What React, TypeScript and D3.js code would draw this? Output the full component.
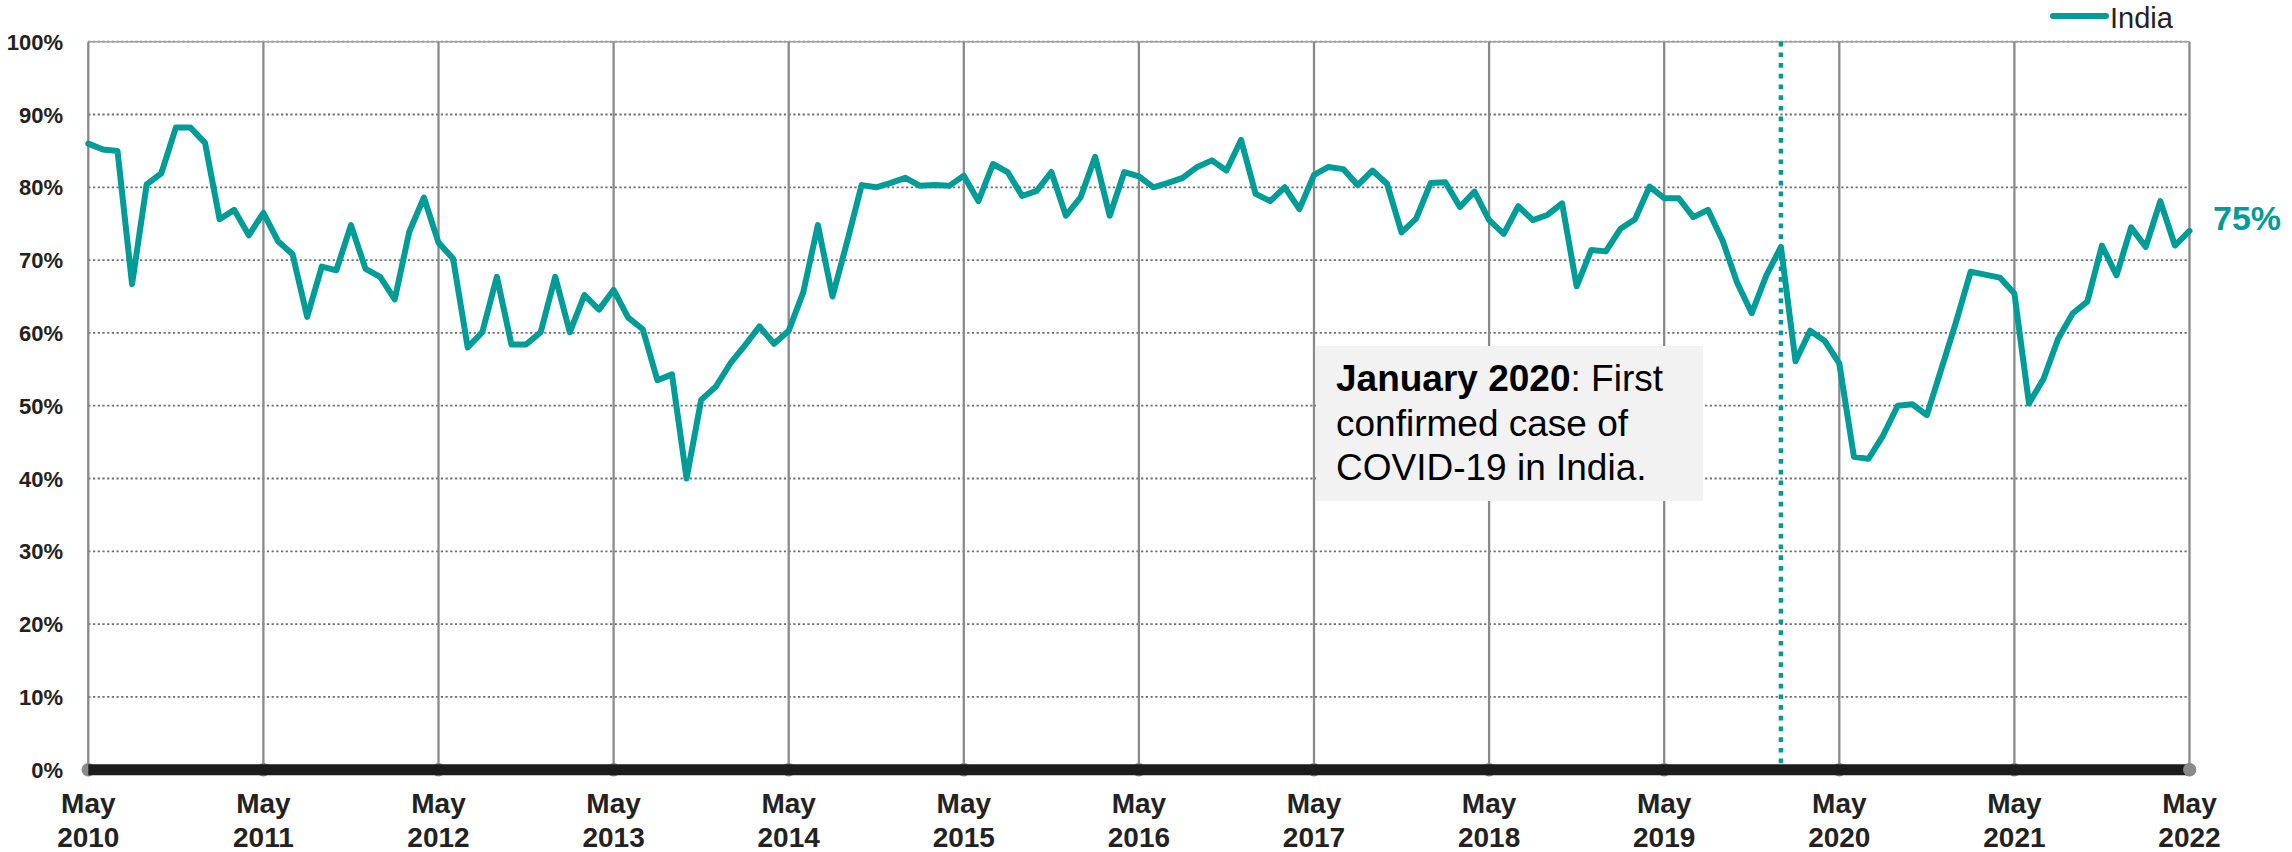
import React, { useEffect } from 'react';
import * as d3 from 'd3';

// ---------- data ----------
const firstMonth = new Date(2010, 4, 1); // May 2010
const lastMonth = new Date(2022, 4, 1); // May 2022
const months: Date[] = d3.timeMonth.range(firstMonth, d3.timeMonth.offset(lastMonth, 1));

const seriesName = 'India';
const indiaValues: number[] = [
  // 2010 May-Dec
  86.0, 85.2, 85.0, 66.7, 80.4, 81.9, 88.2, 88.2,
  // 2011
  86.1, 75.6, 76.9, 73.4, 76.5, 72.6, 70.8, 62.2, 69.1, 68.6, 74.8, 68.8,
  // 2012
  67.7, 64.6, 73.9, 78.6, 72.4, 70.2, 58.0, 60.1, 67.7, 58.4, 58.4, 60.1,
  // 2013
  67.7, 60.1, 65.2, 63.2, 65.9, 62.1, 60.5, 53.5, 54.3, 40.0, 50.8, 52.6,
  // 2014
  55.8, 58.3, 60.9, 58.5, 60.3, 65.6, 74.8, 65.0, 72.5, 80.3, 80.0, 80.6,
  // 2015
  81.3, 80.2, 80.3, 80.2, 81.6, 78.1, 83.2, 82.1, 78.8, 79.5, 82.1, 76.1,
  // 2016
  78.6, 84.2, 76.1, 82.1, 81.5, 80.0, 80.6, 81.3, 82.8, 83.7, 82.3, 86.5,
  // 2017
  79.1, 78.1, 80.0, 77.0, 81.7, 82.8, 82.5, 80.3, 82.3, 80.5, 73.8, 75.7,
  // 2018
  80.6, 80.7, 77.3, 79.4, 75.5, 73.6, 77.4, 75.5, 76.2, 77.8, 66.4, 71.4,
  // 2019
  71.2, 74.3, 75.6, 80.1, 78.5, 78.5, 75.9, 76.9, 72.7, 66.9, 62.7, 67.9,
  // 2020
  71.8, 56.1, 60.3, 58.9, 55.8, 43.0, 42.7, 45.9, 50.0, 50.2, 48.7, 55.1,
  // 2021
  61.5, 68.4, 68.0, 67.6, 65.4, 50.3, 53.7, 59.2, 62.7, 64.3, 72.0, 67.9,
  // 2022 Jan-May
  74.5, 71.8, 78.1, 72.0, 74.0,
];

const xTickMonthLabel = 'May';
const xTickYears: number[] = [2010, 2011, 2012, 2013, 2014, 2015, 2016, 2017, 2018, 2019, 2020, 2021, 2022];
const yTicks: number[] = [0, 10, 20, 30, 40, 50, 60, 70, 80, 90, 100];
const endLabel = '75%';

const covidMonth = new Date(2020, 0, 1);
const annotationBold = 'January 2020';
const annotationLines: string[] = [': First', 'confirmed case of', 'COVID-19 in India.'];

// ---------- styles ----------
const W = 2292;
const H = 852;
const TEAL = '#009c97';
const TEXT = '#222222';
const FONT = '"Liberation Sans", Arial, Helvetica, sans-serif';

export default function App() {
  useEffect(() => {
    document.body.style.margin = '0';
    document.body.style.overflow = 'hidden';
  }, []);

  const x = d3.scaleLinear().domain([0, months.length - 1]).range([88.3, 2189.5]);
  const y = d3.scaleLinear().domain([0, 100]).range([769.7, 41.7]);

  const line = d3
    .line<number>()
    .x((_, i) => x(i))
    .y((d) => y(d));

  const monthIndex = (dt: Date) => months.findIndex((m) => m.getTime() === dt.getTime());
  const yearIdx = xTickYears.map((yr) => monthIndex(new Date(yr, 4, 1)));
  const covidX = x(monthIndex(covidMonth));

  const x0 = x(0);
  const x1 = x(months.length - 1);
  const yBottom = y(0);
  const yTop = y(100);
  const lastVal = indiaValues[indiaValues.length - 1];

  return (
    <svg
      width={W}
      height={H}
      style={{ position: 'absolute', left: 0, top: 0, background: '#fff' }}
      fontFamily={FONT}
    >
      <rect x={0} y={0} width={W} height={H} fill="#ffffff" />

      {/* horizontal dotted gridlines */}
      {yTicks
        .filter((t) => t > 0)
        .map((t) => (
          <line
            key={'h' + t}
            x1={x0}
            x2={x1}
            y1={y(t)}
            y2={y(t)}
            stroke="#6e6e6e"
            strokeWidth={1.8}
            strokeDasharray="2.2 2.5"
          />
        ))}
      <line x1={x0} x2={x1} y1={yTop} y2={yTop} stroke="#a0a0a0" strokeWidth={1.4} />

      {/* vertical year gridlines */}
      {yearIdx.map((i) => (
        <line key={'v' + i} x1={x(i)} x2={x(i)} y1={yTop} y2={yBottom} stroke="#8a8a8a" strokeWidth={2.3} />
      ))}

      {/* annotation box */}
      <rect x={1316} y={346} width={387} height={155} fill="#f2f2f2" />
      <text x={1336} y={391} fontSize={37} fill="#000">
        <tspan fontWeight="bold">{annotationBold}</tspan>
        <tspan>{annotationLines[0]}</tspan>
      </text>
      <text x={1336} y={435.5} fontSize={37} fill="#000">
        {annotationLines[1]}
      </text>
      <text x={1336} y={480} fontSize={37} fill="#000">
        {annotationLines[2]}
      </text>

      {/* covid marker */}
      <line
        x1={covidX}
        x2={covidX}
        y1={yTop}
        y2={yBottom}
        stroke={TEAL}
        strokeWidth={4.5}
        strokeDasharray="4.7 6"
      />

      {/* bottom axis bar with grey knobs */}
      {yearIdx.map((i) => (
        <circle key={'c' + i} cx={x(i)} cy={yBottom} r={6.8} fill="#8a8a8a" />
      ))}
      <line x1={x0} x2={x1} y1={yBottom} y2={yBottom} stroke="#1c1c1c" strokeWidth={11} />
      <circle cx={x1} cy={yBottom} r={6.5} fill="#8a8a8a" />

      {/* data line */}
      <path
        d={line(indiaValues) || ''}
        fill="none"
        stroke={TEAL}
        strokeWidth={6}
        strokeLinejoin="round"
        strokeLinecap="round"
      />

      {/* end label */}
      <text x={2213} y={y(lastVal) - 1} fontSize={34} fontWeight="bold" fill={TEAL}>
        {endLabel}
      </text>

      {/* y axis labels */}
      {yTicks.map((t) => (
        <text key={'yl' + t} x={63} y={y(t) + 8} fontSize={22} fontWeight="bold" fill={TEXT} textAnchor="end">
          {t + '%'}
        </text>
      ))}

      {/* x axis labels */}
      {yearIdx.map((i, k) => (
        <text key={'xl' + i} x={x(i)} textAnchor="middle" fontSize={28} fontWeight="bold" fill={TEXT}>
          <tspan x={x(i)} y={813}>
            {xTickMonthLabel}
          </tspan>
          <tspan x={x(i)} y={847}>
            {String(xTickYears[k])}
          </tspan>
        </text>
      ))}

      {/* legend */}
      <line x1={2053} x2={2106} y1={16} y2={16} stroke={TEAL} strokeWidth={6} strokeLinecap="round" />
      <text x={2110} y={28} fontSize={29} fill={TEXT}>
        {seriesName}
      </text>
    </svg>
  );
}
